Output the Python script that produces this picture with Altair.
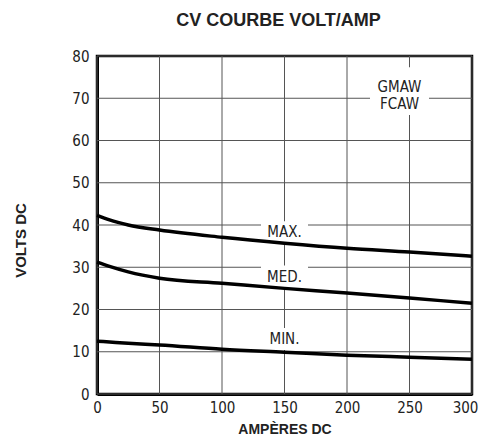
import altair as alt
import pandas as pd

# Data
amps = [0, 10, 25, 50, 100, 150, 200, 250, 300]
max_volts = [42.3, 41.2, 40.0, 38.8, 37.1, 35.7, 34.5, 33.6, 32.6]
med_volts = [31.2, 30.2, 28.9, 27.4, 26.2, 25.0, 23.9, 22.7, 21.5]
min_volts = [12.5, 12.3, 12.0, 11.6, 10.6, 9.9, 9.2, 8.7, 8.2]

curve_labels = ["MAX.", "MED.", "MIN."]
curve_label_x = [150, 150, 150]
curve_label_y = [38.3, 27.8, 13.0]

process_labels = ["GMAW", "FCAW"]
process_label_x = [242, 242]
process_label_y = [72.7, 68.6]
process_box_x = [242]
process_box_y = [71.7]

x_ticks = [0, 50, 100, 150, 200, 250, 300]
y_ticks = [0, 10, 20, 30, 40, 50, 60, 70, 80]

rows = []
for name, vals in [("MAX", max_volts), ("MED", med_volts), ("MIN", min_volts)]:
    for a, v in zip(amps, vals):
        rows.append({"curve": name, "amps": a, "volts": v})
df = pd.DataFrame(rows)

lab_df = pd.DataFrame({"text": curve_labels, "amps": curve_label_x, "volts": curve_label_y})
proc_df = pd.DataFrame({"text": process_labels, "amps": process_label_x, "volts": process_label_y})
pbox_df = pd.DataFrame({"amps": process_box_x, "volts": process_box_y})
vgrid_df = pd.DataFrame({"amps": x_ticks})
hgrid_df = pd.DataFrame({"volts": y_ticks})

FONT = "DejaVu Sans Condensed, Liberation Sans, sans-serif"
BOLD = "Liberation Sans, Arial, sans-serif"

xscale = alt.Scale(domain=[0, 300], nice=False)
yscale = alt.Scale(domain=[0, 80], nice=False)

x_axis = alt.Axis(values=x_ticks, title="AMPÈRES DC", titlePadding=7, labelPadding=6,
                  titleFontSize=14,
                  labelOffset={"condition": {"test": "datum.value === 300", "value": -7}, "value": 0})
y_axis = alt.Axis(values=y_ticks, title="VOLTS DC", labelPadding=8, titleX=-77, titleY=184,
                  titleAlign="center", titleBaseline="middle", titleAngle=-90)

X = alt.X("amps:Q", scale=xscale, axis=x_axis)
Y = alt.Y("volts:Q", scale=yscale, axis=y_axis)

vgrid = alt.Chart(vgrid_df).mark_rule(color="#555", strokeWidth=1).encode(x=X)
hgrid = alt.Chart(hgrid_df).mark_rule(color="#555", strokeWidth=1).encode(y=Y)

lines = alt.Chart(df).mark_line(color="black", strokeWidth=3.5, interpolate="monotone").encode(
    x=X, y=Y, detail="curve:N")

label_boxes = alt.Chart(lab_df).mark_point(shape="M-1,-0.47H1V0.47H-1Z", size=47 * 47, filled=True,
                                           fill="white", opacity=1, strokeWidth=0).encode(x=X, y=Y)
label_text = alt.Chart(lab_df).mark_text(font=FONT, fontSize=15, color="#222").encode(
    x=X, y=Y, text="text:N")

proc_box = alt.Chart(pbox_df).mark_point(shape="M-1,-0.81H1V0.81H-1Z", size=59 * 59, filled=True,
                                         fill="white", opacity=1, strokeWidth=0).encode(x=X, y=Y)
proc_text = alt.Chart(proc_df).mark_text(font=FONT, fontSize=15, color="#222").encode(
    x=X, y=Y, text="text:N")

chart = alt.layer(vgrid, hgrid, label_boxes, proc_box, lines, label_text, proc_text).properties(
    width=375, height=338,
    title=alt.TitleParams("CV COURBE VOLT/AMP", fontSize=18, font=BOLD, dx=-6,
                          fontWeight="bold", color="#222", anchor="middle", offset=19),
    autosize=alt.AutoSizeParams(type="none"),
    padding={"left": 89, "top": 48, "right": 7, "bottom": 42},
).configure_view(stroke="black", strokeWidth=2.5).configure_axis(
    grid=False, domainColor="black", domainWidth=3, ticks=False,
    labelFont=FONT, labelFontSize=15, labelColor="#222", labelFlush=False,
    titleFont=BOLD, titleFontSize=15, titleFontWeight="bold", titleColor="#222",
)

chart.save("out.html", embed_options={"renderer": "svg", "actions": False})
